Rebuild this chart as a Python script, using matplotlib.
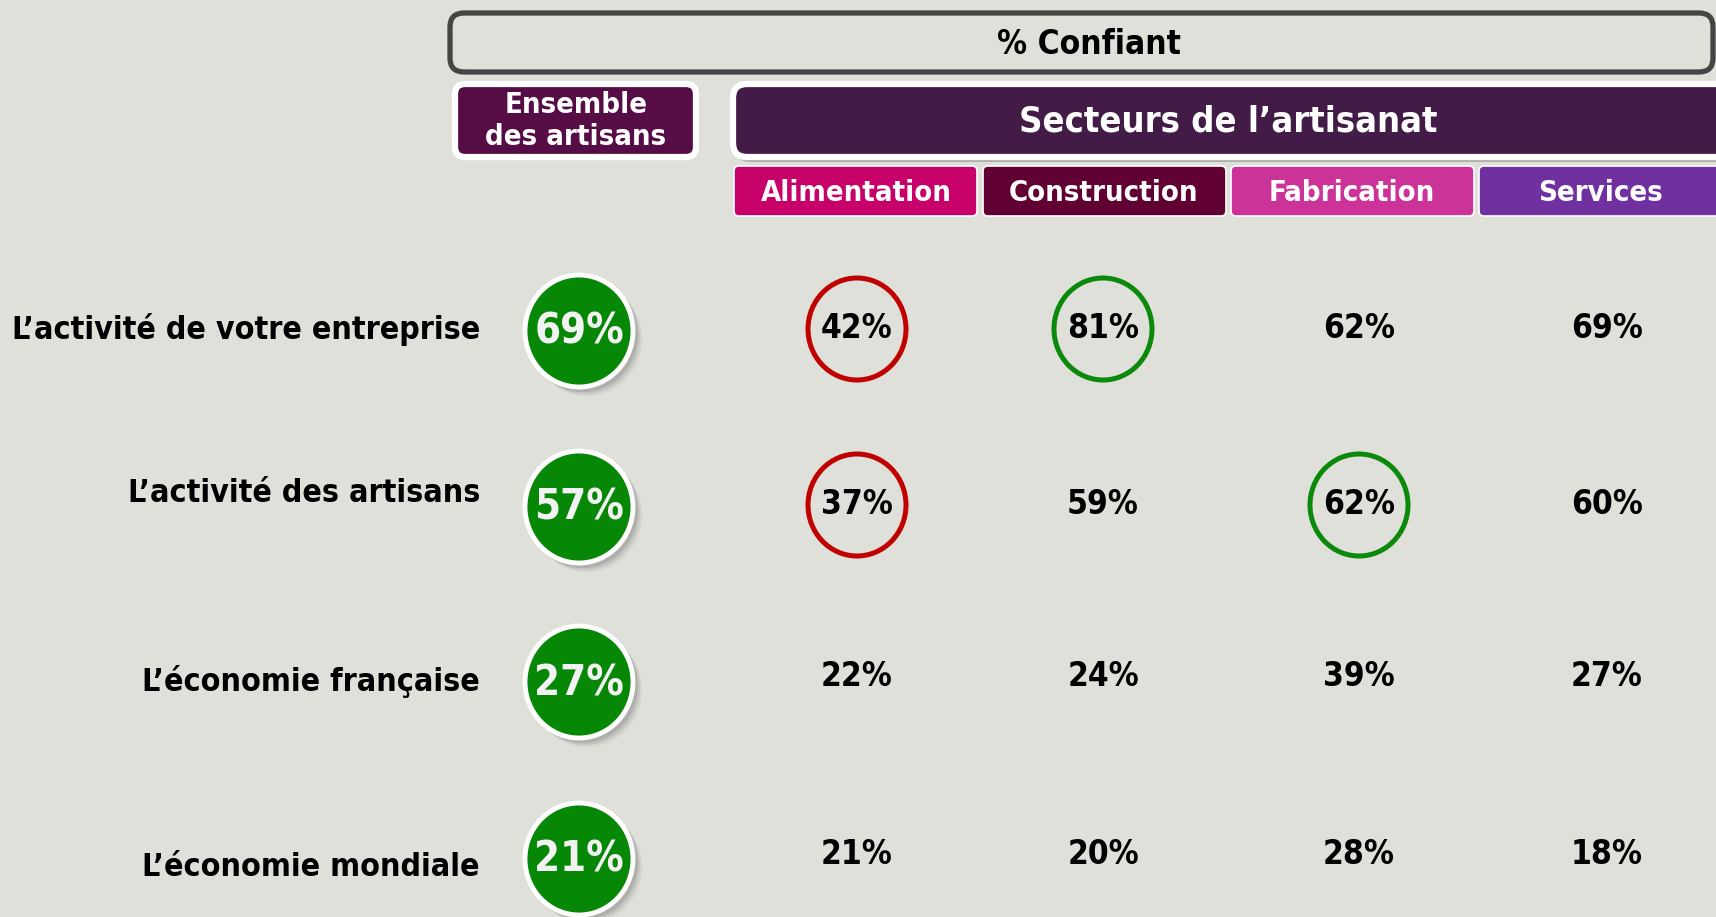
import matplotlib.pyplot as plt
from matplotlib.patches import FancyBboxPatch, Ellipse

# Donnees
lignes = ['L\u2019activité de votre entreprise', 'L\u2019activité des artisans',
          'L\u2019économie française', 'L\u2019économie mondiale']
ensemble = [69, 57, 27, 21]
secteurs = ['Alimentation', 'Construction', 'Fabrication', 'Services']
alimentation = [42, 37, 22, 21]
construction = [81, 59, 24, 20]
fabrication = [62, 62, 39, 28]
services = [69, 60, 27, 18]
# (ligne, colonne, couleur) des valeurs entourees
entoures = [(0, 0, 'red'), (0, 1, 'green'), (1, 0, 'red'), (1, 2, 'green')]

valeurs = [alimentation, construction, fabrication, services]

fond = '#dfe0da'
couleurs_sect = ['#c8006a', '#610033', '#cc3399', '#7030a0']
vert = '#068806'
rouge_c = '#c00000'
vert_c = '#0b890b'

W, H = 1716, 917
fig = plt.figure(figsize=(W / 100, H / 100), dpi=100)
fig.patch.set_facecolor(fond)
ax = fig.add_axes([0, 0, 1, 1])
ax.set_xlim(0, W)
ax.set_ylim(H, 0)
ax.axis('off')

fam = 'DejaVu Sans'
st = 'condensed'

def boite(x0, y0, x1, y1, fc, ec, lw, r=10):
    p = FancyBboxPatch((x0, y0), x1 - x0, y1 - y0,
                       boxstyle='round,pad=0,rounding_size=%d' % r,
                       fc=fc, ec=ec, lw=lw, zorder=2)
    ax.add_patch(p)

# En-tete
boite(450, 13, 1713, 72, fond, '#454545', 3.8, r=14)
ax.text(1089, 45, '% Confiant', ha='center', va='center', fontsize=24,
        fontweight='bold', family=fam, stretch=st, zorder=3)

boite(455, 84, 696, 157, '#560c45', 'white', 4.5, r=10)
ax.text(576, 121, 'Ensemble\ndes artisans', ha='center', va='center',
        fontsize=21, fontweight='bold', color='white', family=fam, stretch=st,
        linespacing=1.2, zorder=3)

# ombre sous le bandeau secteurs
boite(736, 89, 1730, 162, '#b0b0aa', 'none', 0, r=14)
boite(733, 84, 1730, 157, '#421c47', 'white', 4.5, r=14)
ax.text(1228, 121, 'Secteurs de l\u2019artisanat', ha='center', va='center',
        fontsize=26, fontweight='bold', color='white', family=fam, stretch=st,
        zorder=3)

x_cols = [857, 1103, 1359, 1607]
x_hd = [(734, 977), (983, 1226), (1231, 1474), (1479, 1730)]
x_txt = [856, 1103, 1352, 1600]
for i, s in enumerate(secteurs):
    boite(x_hd[i][0], 166, x_hd[i][1], 216, couleurs_sect[i], 'white', 1.2, r=5)
    ax.text(x_txt[i], 193, s, ha='center', va='center', fontsize=21,
            fontweight='bold', color='white', family=fam, stretch=st, zorder=3)

# Lignes
y_rows = [329, 505, 680, 857]
y_lab = [329, 494, 681, 868]
x_ens = 579
for j, lab in enumerate(lignes):
    ax.text(480, y_lab[j], lab, ha='right', va='center', fontsize=23,
            fontweight='bold', family=fam, stretch=st, zorder=3)
    # bulle verte
    yc = y_rows[j] + 2
    for k, a in [(8, 0.08), (6, 0.12), (4, 0.18)]:
        ax.add_patch(Ellipse((x_ens + k, yc + k), 110, 114, fc='#555555',
                             ec='none', alpha=a, zorder=2))
    ax.add_patch(Ellipse((x_ens, yc), 108, 112, fc=vert, ec='white', lw=3.5,
                         zorder=3))
    ax.text(x_ens, yc + 1, '%d%%' % ensemble[j], ha='center', va='center',
            fontsize=30, fontweight='bold', color='#f2f2f2', family=fam,
            stretch=st, zorder=4)
    for i in range(4):
        ax.text(x_cols[i], y_rows[j] - (3 if j == 3 else 0) - (3 if j == 2 else 0),
                '%d%%' % valeurs[i][j], ha='center', va='center', fontsize=24,
                fontweight='bold', family=fam, stretch=st, zorder=4)

for j, i, c in entoures:
    ax.add_patch(Ellipse((x_cols[i], y_rows[j]), 98, 102, fc='none',
                         ec=rouge_c if c == 'red' else vert_c, lw=3.6, zorder=3))

fig.savefig('out.png', dpi=100, facecolor=fond)
